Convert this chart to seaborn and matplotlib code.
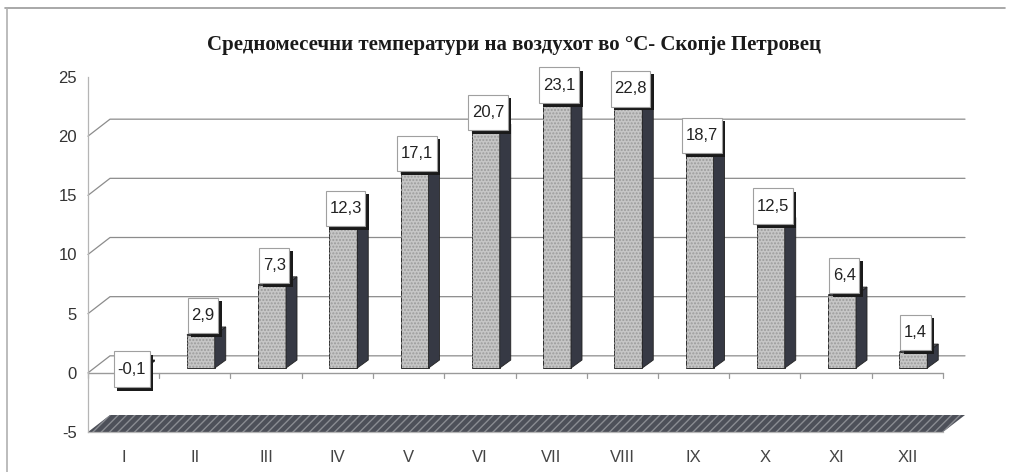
import matplotlib
matplotlib.use('Agg')
import matplotlib.pyplot as plt
import matplotlib.patheffects as pe
import seaborn as sns
from matplotlib.patches import Polygon, Rectangle
from matplotlib.path import Path

# monthly mean air temperature, Skopje - Petrovec
months = ['I', 'II', 'III', 'IV', 'V', 'VI', 'VII', 'VIII', 'IX', 'X', 'XI', 'XII']
temps = [-0.1, 2.9, 7.3, 12.3, 17.1, 20.7, 23.1, 22.8, 18.7, 12.5, 6.4, 1.4]
yticks = [-5, 0, 5, 10, 15, 20, 25]
grid_levels = [0, 5, 10, 15, 20]
labels = [f'{v:.1f}'.replace('.', ',') for v in temps]
title = 'Средномесечни температури на воздухот во °C- Скопје Петровец'

sns.set_style('white')
plt.rcParams['font.family'] = ['Liberation Sans', 'DejaVu Sans']

W, H = 1010, 472
fig = plt.figure(figsize=(W / 100, H / 100), dpi=100)

# frame of the chart area
fig.add_artist(plt.Line2D([5 / W, 1005 / W], [1 - 8 / H, 1 - 8 / H], color='#9a9a9a', lw=1.2))
fig.add_artist(plt.Line2D([7 / W, 7 / W], [0, 1 - 8 / H], color='#b0b0b0', lw=1.2))

pos = [88 / W, 1 - 432 / H, 855 / W, 355 / H]
ax = fig.add_axes(pos)
ax.set_xlim(-0.5, 11.5)
ax.set_ylim(-5, 25)

# depth of the 3d wall, in data units
px_x = 855 / 12
px_y = 355 / 30
dx = 22 / px_x
dy = 17 / px_y

# back wall gridlines with the diagonal to the front axis
for v in grid_levels:
    ax.plot([-0.5, -0.5 + dx, 11.5 + dx], [v, v + dy, v + dy],
            color='#8c8c8c', lw=0.9, clip_on=False, zorder=1)

# floor at -5
floor = Polygon([(-0.5, -5), (11.5, -5), (11.5 + dx, -5 + dy), (-0.5 + dx, -5 + dy)],
                closed=True, facecolor='#4d5059', edgecolor='#8a8c92', hatch='////',
                lw=0, clip_on=False, zorder=2)
ax.add_patch(floor)

# front category axis at zero
ax.plot([-0.5, 11.5], [0, 0], color='#9a9a9a', lw=1, zorder=1, clip_on=False)
for b in range(13):
    ax.plot([b - 0.5, b - 0.5], [0, -0.45], color='#9a9a9a', lw=0.9, zorder=1, clip_on=False)

for s in ['top', 'right']:
    ax.spines[s].set_visible(False)
ax.spines['left'].set_color('#b5b5b5')
ax.spines['bottom'].set_color('#b5b5b5')
ax.spines['left'].set_linewidth(0.9)
ax.spines['bottom'].set_linewidth(0.9)

ax.set_yticks(yticks)
ax.set_yticklabels([str(t) for t in yticks])
ax.set_xticks(range(len(months)))
ax.set_xticklabels(months)
ax.set_xticks([b - 0.5 for b in range(13)], minor=True)
ax.tick_params(axis='y', length=6, width=0.8, color='#999999', pad=2,
               labelsize=12, labelcolor='#333333')
ax.tick_params(axis='x', which='major', length=0, pad=13, labelsize=12, labelcolor='#444444')
ax.tick_params(axis='x', which='minor', length=5, width=0.8, color='#999999')
ax.set_facecolor('none')

# bars sit half way into the depth, so they get their own overlay axes
ax_b = fig.add_axes(pos)
sns.barplot(x=months, y=temps, ax=ax_b, color='#c6c6c6', width=0.39,
            edgecolor='#2e2e2e', linewidth=0.7, saturation=1, zorder=3)
ax_b.set_xlim(-0.584, 11.416)
ax_b.set_ylim(-5.61, 25.53)
ax_b.axis('off')
ax_b.set_facecolor('none')


def label_box(x0, y0, width, height, mutation_size):
    # tall narrow box like the excel data labels
    px = 0.22 * mutation_size
    py = 0.62 * mutation_size
    verts = [(x0 - px, y0 - py), (x0 + width + px, y0 - py),
             (x0 + width + px, y0 + height + py), (x0 - px, y0 + height + py),
             (x0 - px, y0 - py)]
    return Path(verts, closed=True)


bpx_y = 355 / (25.53 + 5.61)
bdx = 11 / px_x
bdy = 8 / bpx_y
for p, v, lab in zip(ax_b.patches, temps, labels):
    x0 = p.get_x()
    w = p.get_width()
    x1 = x0 + w
    y0, y1 = min(0, v), max(0, v)
    ax_b.add_patch(Rectangle((x0, y0), w, y1 - y0, fill=False, hatch='.....',
                             edgecolor='#9b9b9b', lw=0, zorder=3.1))
    ax_b.add_patch(Polygon([(x1, y0), (x1 + bdx, y0 + bdy), (x1 + bdx, y1 + bdy), (x1, y1)],
                           closed=True, facecolor='#363944', edgecolor='#222222',
                           lw=0.6, zorder=3.2))
    ax_b.add_patch(Polygon([(x0, y1), (x1, y1), (x1 + bdx, y1 + bdy), (x0 + bdx, y1 + bdy)],
                           closed=True, facecolor='#55575f', edgecolor='#222222',
                           lw=0.6, zorder=3.2))
    cx = x0 + w / 2 + 0.03
    off = 14 if v > 0 else 0
    t = ax_b.annotate(lab, (cx, v), xytext=(0, off), textcoords='offset points',
                      ha='center', va='center', fontsize=12, color='#222222', zorder=5,
                      bbox=dict(boxstyle=label_box, fc='white', ec='#a0a0a0', lw=0.8),
                      annotation_clip=False)
    t.get_bbox_patch().set_path_effects([
        pe.SimplePatchShadow(offset=(2.6, -2.6), shadow_rgbFace='#1a1a1a', alpha=1),
        pe.Normal()])

fig.text(514 / W, 1 - 45 / H, title, ha='center', va='center', fontsize=15,
         fontweight='bold', family=['Liberation Serif', 'DejaVu Serif'], color='#1a1a1a')

fig.savefig('out.png', dpi=100)
